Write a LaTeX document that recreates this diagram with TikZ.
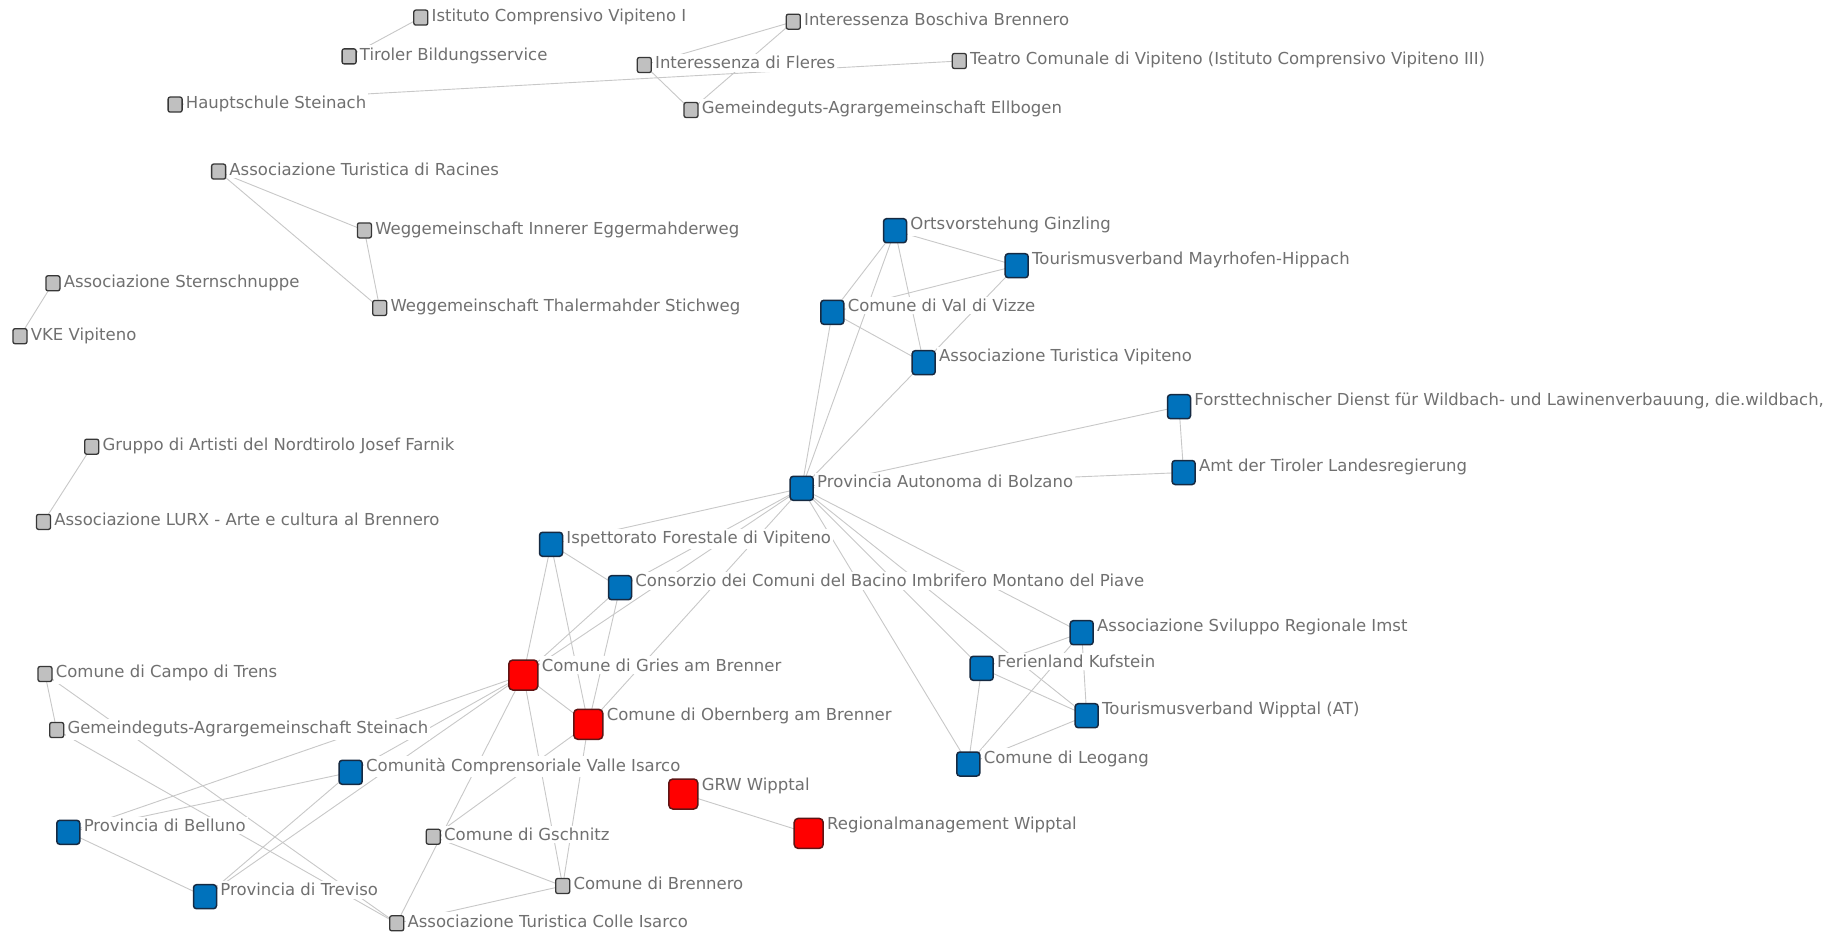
\documentclass[tikz,border=0pt]{standalone}
\usepackage{fontspec}
\setmainfont{DejaVu Sans}
\pgfdeclarelayer{bg}
\pgfdeclarelayer{edges}
\pgfdeclarelayer{labels}
\pgfsetlayers{bg,edges,main,labels}
\definecolor{edgec}{RGB}{200,200,200}
\definecolor{txtc}{RGB}{112,112,112}
\definecolor{grayf}{RGB}{192,192,192}
\definecolor{grayb}{RGB}{55,55,55}
\definecolor{bluef}{RGB}{0,114,188}
\definecolor{blueb}{RGB}{22,42,66}
\definecolor{redf}{RGB}{255,0,0}
\definecolor{redb}{RGB}{95,20,20}
\tikzset{
  gnode/.style={draw=grayb,fill=grayf,line width=1.3pt,rounded corners=2pt,minimum width=14pt,minimum height=15pt,inner sep=0pt},
  bnode/.style={draw=blueb,fill=bluef,line width=1.5pt,rounded corners=3pt,minimum width=23pt,minimum height=24pt,inner sep=0pt},
  rnode/.style={draw=redb,fill=redf,line width=1.5pt,rounded corners=4pt,minimum width=29pt,minimum height=30pt,inner sep=0pt},
  lab/.style={anchor=base west,fill=white,text=txtc,inner xsep=2pt,inner ysep=2.5pt,font=\fontsize{16.5}{18}\selectfont},
  edge/.style={draw=edgec,line width=0.9pt}
}
\begin{document}
\begin{tikzpicture}[x=1pt,y=-1pt]
\begin{pgfonlayer}{bg}
\fill[white] (0,0) rectangle (1843,936);
\end{pgfonlayer}
\useasboundingbox (0,0) rectangle (1843,936);
% gray nodes
\node[gnode] (ist) at (420.8,17.6) {};
\node[gnode] (tir) at (349.1,56.4) {};
\node[gnode] (bos) at (793.3,21.7) {};
\node[gnode] (fle) at (644.3,65) {};
\node[gnode] (tea) at (959.3,61) {};
\node[gnode] (hau) at (175.1,104.6) {};
\node[gnode] (ell) at (691,110) {};
\node[gnode] (rac) at (218.6,171.6) {};
\node[gnode] (inn) at (364.4,230.4) {};
\node[gnode] (tha) at (379.7,308) {};
\node[gnode] (ste) at (52.9,283.3) {};
\node[gnode] (vke) at (20,336.2) {};
\node[gnode] (gru) at (91.7,446.7) {};
\node[gnode] (lur) at (43.5,521.9) {};
\node[gnode] (cam) at (45,674) {};
\node[gnode] (gst) at (56.7,730) {};
\node[gnode] (gsc) at (433.3,836.7) {};
\node[gnode] (bre) at (562.7,886) {};
\node[gnode] (col) at (396.7,923.3) {};
% blue nodes
\node[bnode] (ort) at (895,230.7) {};
\node[bnode] (tvm) at (1016.7,265.7) {};
\node[bnode] (vdv) at (832.3,312.3) {};
\node[bnode] (atv) at (923.7,362.7) {};
\node[bnode] (for) at (1179,406.7) {};
\node[bnode] (amt) at (1183.6,472.5) {};
\node[bnode] (pab) at (801.7,488.3) {};
\node[bnode] (isp) at (551,544.3) {};
\node[bnode] (con) at (620,587.7) {};
\node[bnode] (svi) at (1081.7,632.7) {};
\node[bnode] (fer) at (981.7,668.3) {};
\node[bnode] (tvw) at (1086.7,715.7) {};
\node[bnode] (leo) at (968.3,764) {};
\node[bnode] (com) at (350.7,772.3) {};
\node[bnode] (bel) at (68.3,832.3) {};
\node[bnode] (tre) at (205,896.7) {};
% red nodes
\node[rnode] (gri) at (523.3,675) {};
\node[rnode] (obe) at (588.3,724.3) {};
\node[rnode] (grw) at (683.3,794) {};
\node[rnode] (reg) at (808.7,833.4) {};
% edges
\begin{pgfonlayer}{edges}
\foreach \a/\b in {ist/tir,bos/fle,bos/ell,fle/ell,hau/tea,rac/inn,rac/tha,inn/tha,ste/vke,gru/lur,
  ort/tvm,ort/vdv,ort/pab,ort/atv,tvm/vdv,tvm/atv,vdv/atv,vdv/pab,atv/pab,for/amt,for/pab,amt/pab,
  pab/isp,pab/con,pab/gri,pab/obe,pab/svi,pab/tvw,pab/fer,pab/leo,
  isp/con,isp/gri,isp/obe,con/obe,con/gri,gri/obe,
  fer/svi,fer/tvw,fer/leo,svi/tvw,svi/leo,tvw/leo,grw/reg,
  cam/gst,cam/col,gst/col,bel/gri,bel/com,bel/tre,tre/com,tre/gri,com/gri,gri/col,gri/bre,
  obe/gsc,obe/bre,gsc/bre,bre/col}
  \draw[edge] (\a.center) -- (\b.center);
\end{pgfonlayer}
% labels
\begin{pgfonlayer}{labels}
\node[lab] (ist-l) at ([shift={(1,12)}]ist.north east) {Istituto Comprensivo Vipiteno I};
\node[lab] (tir-l) at ([shift={(1,12)}]tir.north east) {Tiroler Bildungsservice};
\node[lab] (bos-l) at ([shift={(1,12)}]bos.north east) {Interessenza Boschiva Brennero};
\node[lab] (fle-l) at ([shift={(1,12)}]fle.north east) {Interessenza di Fleres};
\node[lab] (tea-l) at ([shift={(1,12)}]tea.north east) {Teatro Comunale di Vipiteno (Istituto Comprensivo Vipiteno III)};
\node[lab] (hau-l) at ([shift={(1,12)}]hau.north east) {Hauptschule Steinach};
\node[lab] (ell-l) at ([shift={(1,12)}]ell.north east) {Gemeindeguts-Agrargemeinschaft Ellbogen};
\node[lab] (rac-l) at ([shift={(1,12)}]rac.north east) {Associazione Turistica di Racines};
\node[lab] (inn-l) at ([shift={(1,12)}]inn.north east) {Weggemeinschaft Innerer Eggermahderweg};
\node[lab] (tha-l) at ([shift={(1,12)}]tha.north east) {Weggemeinschaft Thalermahder Stichweg};
\node[lab] (ste-l) at ([shift={(1,12)}]ste.north east) {Associazione Sternschnuppe};
\node[lab] (vke-l) at ([shift={(1,12)}]vke.north east) {VKE Vipiteno};
\node[lab] (gru-l) at ([shift={(1,12)}]gru.north east) {Gruppo di Artisti del Nordtirolo Josef Farnik};
\node[lab] (lur-l) at ([shift={(1,12)}]lur.north east) {Associazione LURX - Arte e cultura al Brennero};
\node[lab] (cam-l) at ([shift={(1,12)}]cam.north east) {Comune di Campo di Trens};
\node[lab] (gst-l) at ([shift={(1,12)}]gst.north east) {Gemeindeguts-Agrargemeinschaft Steinach};
\node[lab] (gsc-l) at ([shift={(1,12)}]gsc.north east) {Comune di Gschnitz};
\node[lab] (bre-l) at ([shift={(1,12)}]bre.north east) {Comune di Brennero};
\node[lab] (col-l) at ([shift={(1,12)}]col.north east) {Associazione Turistica Colle Isarco};
\node[lab] (ort-l) at ([shift={(1,12)}]ort.north east) {Ortsvorstehung Ginzling};
\node[lab] (tvm-l) at ([shift={(1,12)}]tvm.north east) {Tourismusverband Mayrhofen-Hippach};
\node[lab] (vdv-l) at ([shift={(1,12)}]vdv.north east) {Comune di Val di Vizze};
\node[lab] (atv-l) at ([shift={(1,12)}]atv.north east) {Associazione Turistica Vipiteno};
\node[lab] (for-l) at ([shift={(1,12)}]for.north east) {Forsttechnischer Dienst für Wildbach- und Lawinenverbauung, die.wildbach,};
\node[lab] (amt-l) at ([shift={(1,12)}]amt.north east) {Amt der Tiroler Landesregierung};
\node[lab] (pab-l) at ([shift={(1,12)}]pab.north east) {Provincia Autonoma di Bolzano};
\node[lab] (isp-l) at ([shift={(1,12)}]isp.north east) {Ispettorato Forestale di Vipiteno};
\node[lab] (con-l) at ([shift={(1,12)}]con.north east) {Consorzio dei Comuni del Bacino Imbrifero Montano del Piave};
\node[lab] (svi-l) at ([shift={(1,12)}]svi.north east) {Associazione Sviluppo Regionale Imst};
\node[lab] (fer-l) at ([shift={(1,12)}]fer.north east) {Ferienland Kufstein};
\node[lab] (tvw-l) at ([shift={(1,12)}]tvw.north east) {Tourismusverband Wipptal (AT)};
\node[lab] (leo-l) at ([shift={(1,12)}]leo.north east) {Comune di Leogang};
\node[lab] (com-l) at ([shift={(1,12)}]com.north east) {Comunità Comprensoriale Valle Isarco};
\node[lab] (bel-l) at ([shift={(1,12)}]bel.north east) {Provincia di Belluno};
\node[lab] (tre-l) at ([shift={(1,12)}]tre.north east) {Provincia di Treviso};
\node[lab] (gri-l) at ([shift={(1,12)}]gri.north east) {Comune di Gries am Brenner};
\node[lab] (obe-l) at ([shift={(1,12)}]obe.north east) {Comune di Obernberg am Brenner};
\node[lab] (grw-l) at ([shift={(1,12)}]grw.north east) {GRW Wipptal};
\node[lab] (reg-l) at ([shift={(1,12)}]reg.north east) {Regionalmanagement Wipptal};
\end{pgfonlayer}
\end{tikzpicture}
\end{document}
